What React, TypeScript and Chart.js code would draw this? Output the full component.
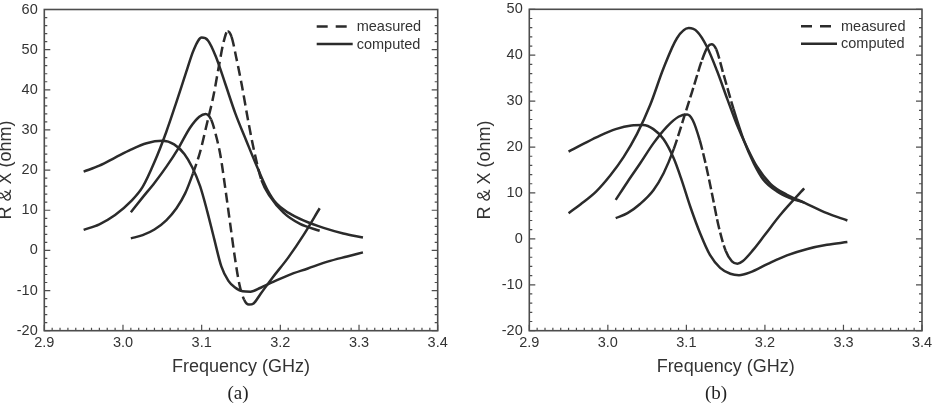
import React, { useEffect, useRef } from 'react';
import { Chart, registerables } from 'chart.js';

Chart.register(...registerables);

// ---- Panel (a) ----
const compFreqA_R = [2.95, 2.97, 2.99, 3.01, 3.025, 3.04, 3.055, 3.068, 3.08, 3.09, 3.1, 3.108, 3.118, 3.13, 3.143, 3.157, 3.17, 3.183, 3.195, 3.21, 3.23, 3.255, 3.28, 3.305];
const compR_A = [5.1, 6.5, 8.8, 12.2, 15.8, 22.0, 29.5, 37.0, 44.2, 50.0, 53.0, 52.3, 48.3, 41.5, 34.0, 27.2, 21.0, 15.3, 11.7, 9.4, 7.4, 5.6, 4.2, 3.2];

const compFreqA_X = [2.95, 2.97, 2.99, 3.01, 3.03, 3.05, 3.065, 3.078, 3.088, 3.098, 3.107, 3.116, 3.125, 3.134, 3.142, 3.152, 3.162, 3.175, 3.19, 3.21, 3.235, 3.26, 3.285, 3.305];
const compX_A = [19.6, 21.1, 23.1, 25.1, 26.7, 27.3, 26.4, 24.0, 20.7, 16.0, 9.8, 2.8, -4.0, -7.6, -9.2, -10.2, -10.3, -9.3, -7.9, -6.2, -4.5, -2.8, -1.5, -0.5];

const measFreqA_R = [3.01, 3.025, 3.04, 3.055, 3.068, 3.079, 3.089, 3.098, 3.106, 3.115, 3.122, 3.128, 3.133, 3.138, 3.144, 3.151, 3.159, 3.167, 3.176, 3.187, 3.204, 3.225, 3.25];
const measR_A = [3.0, 3.8, 5.2, 7.5, 10.5, 14.2, 19.2, 24.5, 31.0, 38.5, 46.0, 52.0, 54.6, 53.2, 48.0, 41.2, 32.4, 24.5, 17.5, 13.4, 9.4, 6.6, 4.9];

const measFreqA_X = [3.01, 3.025, 3.04, 3.055, 3.07, 3.085, 3.097, 3.105, 3.112, 3.118, 3.124, 3.13, 3.136, 3.142, 3.148, 3.154, 3.16, 3.166, 3.175, 3.19, 3.21, 3.23, 3.25];
const measX_A = [9.5, 13.2, 16.8, 20.8, 25.3, 30.5, 33.3, 34.0, 32.6, 28.8, 23.5, 15.5, 7.0, -1.5, -8.5, -12.3, -13.5, -13.2, -10.8, -6.8, -1.8, 4.0, 10.5];

// ---- Panel (b) ----
const compFreqB_R = [2.95, 2.965, 2.985, 3.003, 3.02, 3.037, 3.054, 3.071, 3.088, 3.103, 3.114, 3.126, 3.139, 3.152, 3.164, 3.177, 3.19, 3.207, 3.228, 3.25, 3.279, 3.305];
const compR_B = [5.6, 7.5, 10.3, 13.8, 17.8, 22.8, 29.2, 37.2, 43.7, 45.9, 45.1, 41.9, 36.6, 30.5, 25.0, 20.0, 15.7, 12.0, 9.6, 7.9, 5.6, 4.0];

const compFreqB_X = [2.95, 2.97, 2.99, 3.01, 3.03, 3.045, 3.058, 3.071, 3.084, 3.094, 3.105, 3.118, 3.13, 3.143, 3.156, 3.167, 3.181, 3.203, 3.228, 3.254, 3.279, 3.305];
const compX_B = [19.0, 20.8, 22.5, 23.9, 24.7, 24.8, 23.9, 21.7, 17.5, 12.8, 7.0, 1.0, -3.5, -6.3, -7.6, -7.9, -7.3, -5.5, -3.6, -2.2, -1.3, -0.7];

const measFreqB_R = [3.01, 3.025, 3.041, 3.058, 3.071, 3.084, 3.097, 3.109, 3.12, 3.127, 3.132, 3.138, 3.147, 3.16, 3.173, 3.186, 3.198, 3.215, 3.232, 3.25];
const measR_B = [4.5, 5.6, 7.6, 10.6, 14.3, 19.6, 26.5, 33.0, 39.0, 41.8, 42.4, 41.3, 36.0, 28.3, 21.5, 16.4, 12.9, 10.4, 8.9, 7.9];

const measFreqB_X = [3.01, 3.025, 3.041, 3.058, 3.075, 3.09, 3.101, 3.108, 3.117, 3.125, 3.133, 3.141, 3.15, 3.158, 3.165, 3.172, 3.185, 3.2, 3.22, 3.25];
const measX_B = [8.5, 12.4, 16.4, 20.8, 24.4, 26.6, 27.1, 25.9, 21.5, 16.0, 9.5, 2.8, -2.6, -4.9, -5.4, -4.8, -2.4, 0.9, 5.3, 11.0];

// ---- Axes and labels ----
const freqTicks = [2.9, 3.0, 3.1, 3.2, 3.3, 3.4];
const yRangeA = [-20, 60];
const yRangeB = [-20, 50];
const legendLabels = ['measured', 'computed'];
const xTitle = 'Frequency (GHz)';
const yTitle = 'R & X (ohm)';
const captions = ['(a)', '(b)'];

const INK = '#2b2b2b';
const FRAME = '#4d4d4d';
const SANS = "'Liberation Sans', Arial, Helvetica, sans-serif";
const SERIF = "'Liberation Serif', 'Times New Roman', Times, serif";

type Pt = { x: number; y: number };
const pairs = (xs: number[], ys: number[]): Pt[] => xs.map((x, i) => ({ x, y: ys[i] }));

type PanelSpec = {
  left: number;
  yRange: number[];
  measured: Pt[][];
  computed: Pt[][];
  padLeft: number;
  padRight: number;
  padTop: number;
  yAxisWidth: number;
  yTitlePad: number;
  dash: number[];
  steepness: number;
  caption: string;
  captionCenter: number;
};

const W = 467;
const H = 410;
const PLOT_BOTTOM = 330.7;

const panels: PanelSpec[] = [
  {
    left: 0,
    yRange: yRangeA,
    measured: [pairs(measFreqA_R, measR_A), pairs(measFreqA_X, measX_A)],
    computed: [pairs(compFreqA_R, compR_A), pairs(compFreqA_X, compX_A)],
    padLeft: 0,
    padRight: 29.3,
    padTop: 9.5,
    yAxisWidth: 44.3,
    yTitlePad: -4.3,
    dash: [10, 5],
    steepness: 2.6,
    caption: captions[0],
    captionCenter: 238,
  },
  {
    left: 467,
    yRange: yRangeB,
    measured: [pairs(measFreqB_R, measR_B), pairs(measFreqB_X, measX_B)],
    computed: [pairs(compFreqB_R, compR_B), pairs(compFreqB_X, compX_B)],
    padLeft: 7.5,
    padRight: 12,
    padTop: 9.3,
    yAxisWidth: 54.8,
    yTitlePad: 0,
    dash: [10, 3.5],
    steepness: 3.1,
    caption: captions[1],
    captionCenter: 249,
  },
];

// Box around the plot area with inward major/minor tick marks.
const frameTicks = {
  id: 'frameTicks',
  afterDatasetsDraw(chart: any) {
    const { ctx, chartArea: a, scales } = chart;
    const xs = scales.x;
    const ys = scales.y;
    ctx.save();
    ctx.strokeStyle = FRAME;
    ctx.lineWidth = 1.2;
    ctx.beginPath();
    const x0 = freqTicks[0];
    for (let i = 0; i <= 50; i++) {
      const px = xs.getPixelForValue(x0 + i * 0.01);
      const len = i % 10 === 0 ? 6 : 3;
      ctx.moveTo(px, a.bottom);
      ctx.lineTo(px, a.bottom - len);
    }
    const yMin = ys.min;
    const n = Math.round((ys.max - ys.min) / 2);
    for (let i = 0; i <= n; i++) {
      const v = yMin + i * 2;
      const py = ys.getPixelForValue(v);
      const len = v % 10 === 0 ? 6 : 3;
      ctx.moveTo(a.left, py);
      ctx.lineTo(a.left + len, py);
      ctx.moveTo(a.right, py);
      ctx.lineTo(a.right - len, py);
    }
    ctx.stroke();
    ctx.lineWidth = 1.6;
    ctx.strokeRect(a.left, a.top, a.right - a.left, a.bottom - a.top);
    ctx.restore();
  },
};

// Legend drawn inside the upper-right corner of the plot.
const insetLegend = {
  id: 'insetLegend',
  afterDraw(chart: any) {
    const { ctx, chartArea: a } = chart;
    ctx.save();
    ctx.strokeStyle = INK;
    ctx.fillStyle = '#333';
    ctx.lineWidth = 2.4;
    ctx.font = `14.5px ${SANS}`;
    ctx.textBaseline = 'middle';
    legendLabels.forEach((label, i) => {
      const y = a.top + 17 + i * 17.5;
      ctx.setLineDash(i === 0 ? [11, 8] : []);
      ctx.beginPath();
      ctx.moveTo(a.right - 121, y);
      ctx.lineTo(a.right - (i === 0 ? 88 : 85), y);
      ctx.stroke();
      ctx.fillText(label, a.right - 81, y + 0.5);
    });
    ctx.restore();
  },
};

function PanelChart({ panel }: { panel: PanelSpec }) {
  const ref = useRef<HTMLCanvasElement>(null);

  useEffect(() => {
    if (!ref.current) return;
    // steep stretches of the measured traces are drawn dashed
    const steep = (c: any) => {
      const dx = Math.abs(c.p1.x - c.p0.x) || 0.001;
      return Math.abs(c.p1.y - c.p0.y) / dx > panel.steepness;
    };
    const lineBase = {
      borderColor: INK,
      borderWidth: 2.5,
      pointRadius: 0,
      fill: false,
      cubicInterpolationMode: 'monotone' as const,
      borderCapStyle: 'butt' as const,
      borderJoinStyle: 'round' as const,
    };
    const datasets = [
      ...panel.computed.map((d, i) => ({ ...lineBase, label: `${legendLabels[1]} ${i}`, data: d })),
      ...panel.measured.map((d, i) => ({
        ...lineBase,
        label: `${legendLabels[0]} ${i}`,
        data: d,
        segment: { borderDash: (c: any) => (steep(c) ? panel.dash : undefined) },
      })),
    ];
    const tickFont = { family: SANS, size: 14.5 };
    const titleFont = { family: SANS, size: 18 };
    const chart = new Chart(ref.current, {
      type: 'line',
      data: { datasets },
      options: {
        responsive: false,
        animation: false,
        devicePixelRatio: 1,
        layout: { padding: { left: panel.padLeft, right: panel.padRight, top: panel.padTop, bottom: 0 } },
        plugins: { legend: { display: false }, tooltip: { enabled: false } },
        scales: {
          x: {
            type: 'linear',
            min: freqTicks[0],
            max: freqTicks[freqTicks.length - 1],
            afterFit: (s: any) => {
              s.height = H - PLOT_BOTTOM;
              s.paddingLeft = 0;
              s.paddingRight = 0;
            },
            afterBuildTicks: (s: any) => {
              s.ticks = freqTicks.map((v) => ({ value: v }));
            },
            grid: { display: false, drawTicks: false },
            border: { display: false },
            ticks: {
              color: '#333',
              font: tickFont,
              padding: 4,
              maxRotation: 0,
              autoSkip: false,
              callback: (v: any) => Number(v).toFixed(1),
            },
            title: { display: true, text: xTitle, color: '#333', font: titleFont, padding: { top: 0, bottom: 32.2 } },
          },
          y: {
            type: 'linear',
            min: panel.yRange[0],
            max: panel.yRange[1],
            afterFit: (s: any) => {
              s.width = panel.yAxisWidth;
              s.paddingTop = 0;
              s.paddingBottom = 0;
            },
            grid: { display: false, drawTicks: false },
            border: { display: false },
            ticks: {
              color: '#333',
              font: tickFont,
              stepSize: 10,
              padding: 6.6,
              callback: (v: any) => String(v),
            },
            title: { display: true, text: yTitle, color: '#333', font: titleFont, padding: { top: panel.yTitlePad, bottom: 0 } },
          },
        },
      } as any,
      plugins: [frameTicks, insetLegend],
    });
    return () => chart.destroy();
  }, [panel]);

  return (
    <div style={{ position: 'absolute', left: panel.left, top: 0, width: W, height: H }}>
      <canvas ref={ref} width={W} height={H} style={{ display: 'block', width: W, height: H }} />
      <div
        style={{
          position: 'absolute',
          left: panel.captionCenter - 50,
          top: 382,
          width: 100,
          height: 22,
          lineHeight: '22px',
          textAlign: 'center',
          fontFamily: SERIF,
          fontSize: 19,
          color: '#222',
        }}
      >
        {panel.caption}
      </div>
    </div>
  );
}

export default function App() {
  return (
    <div style={{ position: 'fixed', left: 0, top: 0, width: 934, height: 410, background: '#fff', overflow: 'hidden' }}>
      {panels.map((p) => (
        <PanelChart key={p.caption} panel={p} />
      ))}
    </div>
  );
}
